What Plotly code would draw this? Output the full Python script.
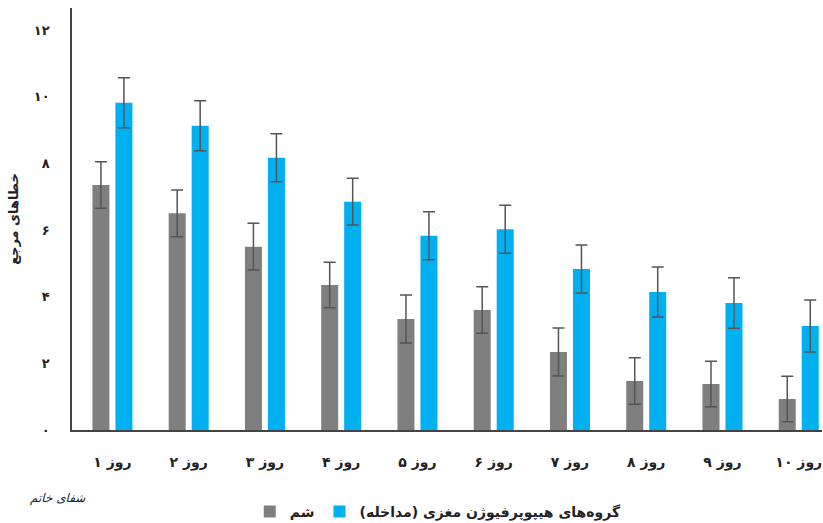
import plotly.graph_objects as go

categories = ["روز ۱", "روز ۲", "روز ۳", "روز ۴", "روز ۵", "روز ۶", "روز ۷", "روز ۸", "روز ۹", "روز ۱۰"]
sham_values = [7.35, 6.5, 5.5, 4.35, 3.33, 3.6, 2.34, 1.47, 1.38, 0.93]
sham_errors = [0.7, 0.7, 0.7, 0.68, 0.72, 0.7, 0.72, 0.7, 0.68, 0.68]
hypo_values = [9.82, 9.13, 8.17, 6.85, 5.83, 6.02, 4.83, 4.14, 3.81, 3.12]
hypo_errors = [0.75, 0.75, 0.72, 0.7, 0.72, 0.72, 0.72, 0.75, 0.76, 0.78]
y_tickvals = [0, 2, 4, 6, 8, 10, 12]
y_ticktext = ["۰", "۲", "۴", "۶", "۸", "۱۰", "۱۲"]
sham_name = "<b>شم</b>"
hypo_name = "<b>گروه‌های هیپوپرفیوژن مغزی (مداخله)</b>"
y_title = "<b>خطاهای مرجع</b>"

font_family = "DejaVu Sans"

fig = go.Figure()
fig.add_trace(go.Bar(
    x=categories, y=sham_values, name=sham_name,
    marker=dict(color="#7f7f7f", line=dict(width=0)),
    error_y=dict(type="data", array=sham_errors, color="#555555", thickness=1.5, width=6),
))
fig.add_trace(go.Bar(
    x=categories, y=hypo_values, name=hypo_name,
    marker=dict(color="#00b0f0", line=dict(width=0)),
    error_y=dict(type="data", array=hypo_errors, color="#555555", thickness=1.5, width=6),
))

fig.update_layout(
    width=823, height=523,
    margin=dict(l=72, r=1, t=8, b=93, autoexpand=False),
    paper_bgcolor="white", plot_bgcolor="white",
    barmode="group", bargap=0.397, bargroupgap=0.26,
    font=dict(family=font_family, size=13, color="#222222"),
    showlegend=True,
    legend=dict(orientation="h", x=0.237, xanchor="left", y=-0.194, yanchor="middle",
                font=dict(size=14, family=font_family, color="#222222"),
                traceorder="normal", itemwidth=30),
    annotations=[dict(text="<i>شفای خاتم</i>", xref="paper", yref="paper",
                      x=-0.019, y=-0.162, xanchor="center", yanchor="middle",
                      showarrow=False, font=dict(size=12, family=font_family, color="#222222"))],
)
fig.update_xaxes(
    range=[-0.53, 9.305],
    showline=True, linecolor="#444444", linewidth=1.5, showgrid=False, automargin=False,
    ticks="", ticklabelstandoff=18,
    tickfont=dict(size=14, family=font_family, color="#222222"),
    tickprefix="<b>", ticksuffix="</b>",
)
fig.update_yaxes(
    range=[0, 12.66], tickvals=y_tickvals, ticktext=["<b>" + t + "</b>" for t in y_ticktext],
    showline=True, linecolor="#444444", linewidth=1.5, showgrid=False, automargin=False,
    ticks="", ticklabelstandoff=18, zeroline=False,
    tickfont=dict(size=13, family=font_family, color="#222222"),
    title=dict(text=y_title, font=dict(size=13, family=font_family, color="#222222"), standoff=12),
)

fig.write_html(
    "out.html",
    config={"displayModeBar": False},
    post_script="document.body.style.margin='0';document.body.style.overflow='hidden';",
)
